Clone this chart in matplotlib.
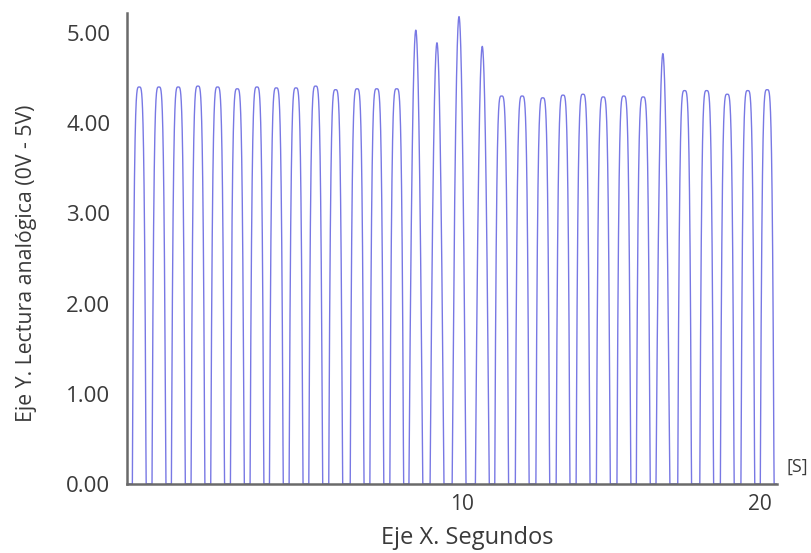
import numpy as np
import matplotlib
matplotlib.use("Agg")
import matplotlib.pyplot as plt

# ---- data (pulse centres in s, peak voltage) ----
peak_times = [-0.83, -0.17, 0.48, 1.14, 1.80, 2.46, 3.12, 3.77, 4.43, 5.09,
              5.76, 6.48, 7.14, 7.81, 8.45, 9.16, 9.90, 10.68, 11.33, 12.02,
              12.71, 13.39, 14.06, 14.74, 15.43, 16.08, 16.74, 17.47, 18.21,
              18.90, 19.59, 20.24]
peak_values = [4.40, 4.40, 4.40, 4.41, 4.40, 4.38, 4.40, 4.39, 4.39, 4.41,
               4.37, 4.38, 4.38, 4.38, 5.03, 4.89, 5.18, 4.85, 4.30, 4.30,
               4.28, 4.31, 4.32, 4.29, 4.30, 4.29, 4.77, 4.36, 4.36, 4.32,
               4.36, 4.37]
# pulse shape exponent: rounded (4) or spiky (2)
peak_shape = [4] * 14 + [2, 2, 2, 2] + [4] * 8 + [2] + [4] * 5

y_ticks = [0, 1, 2, 3, 4, 5]
x_ticks = [10, 20]

pulse_width = 0.46

t = np.linspace(-1.24, 20.55, 30000)
v = np.zeros_like(t)
for c, h, n in zip(peak_times, peak_values, peak_shape):
    d = np.abs(t - c) / (pulse_width / 2)
    p = np.where(d < 1, h * (1 - d ** n), 0.0)
    v = np.maximum(v, p)

plt.rcParams['font.family'] = ['Open Sans', 'DejaVu Sans']

fig = plt.figure(figsize=(8.12, 5.53), dpi=100)
ax = fig.add_axes([127 / 812, 1 - 484 / 553, (777 - 127) / 812, (484 - 13) / 553])

ax.plot(t, v, color='#7878e4', lw=1.0)

ax.set_xlim(-1.24, 20.57)
ax.set_ylim(0, 5.22)

for s in ['top', 'right']:
    ax.spines[s].set_visible(False)
for s in ['left', 'bottom']:
    ax.spines[s].set_color('#6a6a6a')
    ax.spines[s].set_linewidth(1.8)

txt = '#3a3a3a'
ax.set_yticks(y_ticks)
ax.set_yticklabels([f"{y:.2f}" for y in y_ticks])
ax.set_xticks(x_ticks)
ax.set_xticklabels([str(x) for x in x_ticks])
ax.tick_params(axis='y', length=0, pad=12, labelsize=16, labelcolor=txt)
ax.tick_params(axis='x', length=0, pad=7, labelsize=15, labelcolor=txt)

fig.text(467 / 812, 1 - 538 / 553, "Eje X. Segundos", fontsize=17, color=txt,
         ha='center', va='center')
fig.text(27 / 812, 1 - 263 / 553, "Eje Y. Lectura analógica (0V - 5V)",
         fontsize=15.3, color=txt, rotation=90, ha='center', va='center')
fig.text(797 / 812, 1 - 467 / 553, "[S]", fontsize=13, color=txt,
         ha='center', va='center')

fig.savefig("out.png", dpi=100, facecolor='white')
